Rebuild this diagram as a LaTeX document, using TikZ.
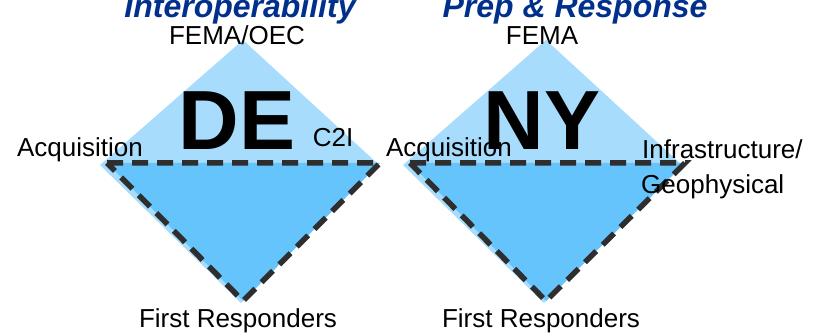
\documentclass[tikz,border=0pt]{standalone}
\usepackage{fontspec}
\setmainfont{Liberation Sans}
\definecolor{lightsky}{HTML}{A8DCFC}
\definecolor{midsky}{HTML}{66C4FC}
\definecolor{navytitle}{HTML}{00308C}
\definecolor{dashgray}{HTML}{2E2E2E}

\begin{document}
\begin{tikzpicture}[x = 1pt, y = -1pt]
\tikzstyle{LabelStyle}=[inner sep = 0pt,
                        anchor = base,
                        font = \fontsize{26}{30}\selectfont]
\tikzstyle{StateStyle}=[inner sep = 0pt,
                        anchor = base,
                        font = \fontsize{84}{90}\selectfont\bfseries]
\tikzstyle{TitleStyle}=[inner sep = 0pt,
                        anchor = base,
                        text = navytitle,
                        font = \fontsize{32}{36}\selectfont\bfseries\itshape]
\tikzstyle{DashStyle}=[draw = dashgray,
                       line width = 5.5pt,
                       dash pattern = on 16pt off 9pt]
\useasboundingbox (0,0) rectangle (816,336);
% DE diamond
\coordinate (de-top) at (243,40);
\coordinate (de-left) at (100,165);
\coordinate (de-right) at (378,164);
\coordinate (de-bot) at (241,303);
\coordinate (de-a) at (107,163);
\coordinate (de-b) at (380,163);
\coordinate (de-c) at (243,301);
\fill[lightsky] (de-top) -- (de-right) -- (de-bot) -- (de-left) -- cycle;
\fill[midsky] (de-a) -- (de-b) -- (de-c) -- cycle;
\draw[DashStyle] (de-a) -- (de-b) -- (de-c) -- cycle;
% NY diamond
\coordinate (ny-top) at (546,40);
\coordinate (ny-left) at (403,165);
\coordinate (ny-right) at (681,164);
\coordinate (ny-bot) at (544,303);
\coordinate (ny-a) at (410,163);
\coordinate (ny-b) at (685,163);
\coordinate (ny-c) at (546,301);
\fill[lightsky] (ny-top) -- (ny-right) -- (ny-bot) -- (ny-left) -- cycle;
\fill[midsky] (ny-a) -- (ny-b) -- (ny-c) -- cycle;
\draw[DashStyle] (ny-a) -- (ny-b) -- (ny-c) -- cycle;
% labels
\node[TitleStyle] (de-title) at (240,18) {Interoperability};
\node[TitleStyle] (ny-title) at (575,18) {Prep \& Response};
\node[LabelStyle] (de-fema) at (237,45) {FEMA/OEC};
\node[LabelStyle] (ny-fema) at (542,45) {FEMA};
\node[StateStyle] (de-state) at (237,150) {DE};
\node[StateStyle] (ny-state) at (542,150) {NY};
\node[LabelStyle] (de-c2i) at (333,147) {C2I};
\node[LabelStyle] (de-acq) at (80,157) {Acquisition};
\node[LabelStyle] (ny-acq) at (449,157) {Acquisition};
\node[LabelStyle, anchor = base west] (ny-infra) at (642,159) {Infrastructure/};
\node[LabelStyle, anchor = base west] (ny-geo) at (641,194) {Geophysical};
\node[LabelStyle] (de-first) at (238,328) {First Responders};
\node[LabelStyle] (ny-first) at (541,328) {First Responders};
\end{tikzpicture}
\end{document}
